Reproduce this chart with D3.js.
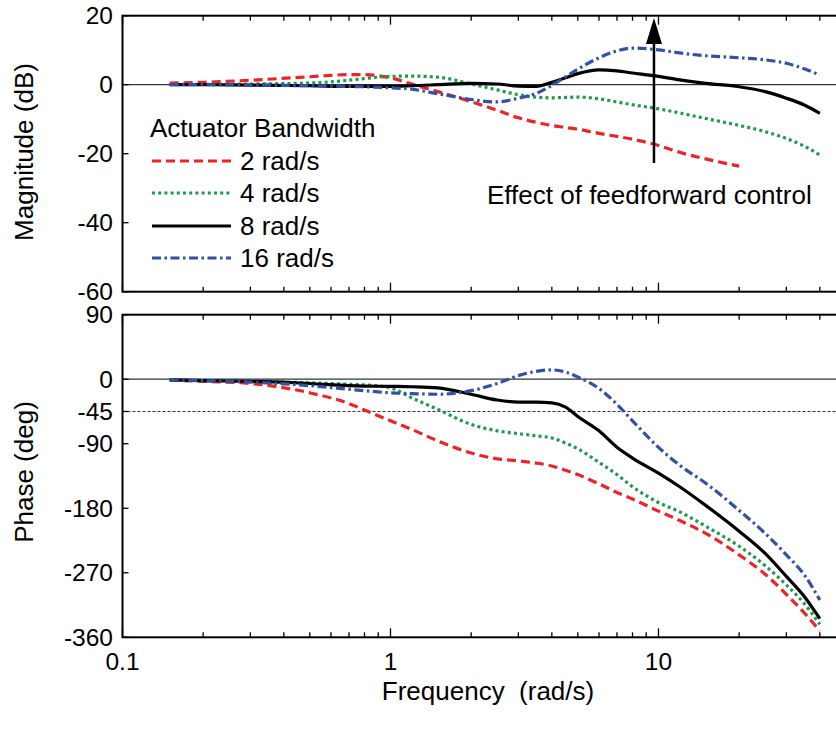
<!DOCTYPE html>
<meta charset="utf-8">
<style>
body { margin: 0; background: #fff; }
text { font-family: "Liberation Sans", Arial, sans-serif; fill: #000; }
.frame { fill: none; stroke: #000; stroke-width: 2; }
.tick { stroke: #000; stroke-width: 1.3; }
.series { fill: none; stroke-width: 3.2; stroke-linejoin: round; }
.ref { stroke: #333; stroke-width: 1.2; }
</style>
<svg width="836" height="736"></svg>
<script src="https://d3js.org/d3.v7.min.js"></script>
<script>

var freq = [0.15, 0.2, 0.3, 0.5, 0.7, 0.8, 1, 1.2, 1.5, 2, 2.5, 3, 3.5, 4, 4.5, 5, 6, 7, 8, 10, 12, 15, 20, 25, 30, 35, 40];

// magnitude (dB); the 2 rad/s curve stops at 20 rad/s
var mag2  = [0.5, 0.7, 1.3, 2.3, 2.9, 2.9, 2.0, 0.2, -2.0, -4.9, -7.4, -9.6, -10.9, -11.8, -12.4, -12.9, -14.1, -15.0, -15.8, -17.6, -19.6, -21.5, -23.6];
var mag4  = [0.1, 0.1, 0.2, 0.5, 1.3, 1.8, 2.4, 2.5, 2.2, 0.2, -1.5, -2.9, -3.6, -3.8, -3.7, -3.6, -4.1, -5.0, -5.8, -7.0, -8.2, -9.8, -11.8, -13.6, -15.6, -17.8, -20.4];
var mag8  = [0, 0, -0.1, -0.3, -0.5, -0.5, -0.5, -0.3, 0, 0.4, 0.2, -0.4, -0.5, 0.7, 2.0, 3.2, 4.3, 4.0, 3.4, 2.4, 1.4, 0.4, -0.6, -2.0, -3.9, -5.9, -8.3];
var mag16 = [0, 0, -0.1, -0.3, -0.5, -0.6, -0.9, -1.3, -2.6, -4.3, -5.0, -3.9, -2.5, -0.2, 2.3, 4.5, 7.8, 9.8, 10.6, 10.1, 9.2, 8.4, 7.8, 7.2, 6.2, 4.6, 2.8];

// phase (deg)
var ph2  = [-1, -3, -6, -19, -34, -43, -58, -70, -86, -103, -111, -114, -117, -121, -127, -133, -146, -158, -167, -184, -197, -215, -245, -272, -300, -326, -351];
var ph4  = [-1, -2, -3, -5, -7, -8, -12, -26, -42, -63, -72, -76, -79, -82, -89, -97, -116, -133, -150, -172, -185, -205, -233, -260, -287, -313, -342];
var ph8  = [-1, -2, -3, -6, -9, -9.5, -10, -10.5, -12, -21, -29, -32, -32, -33, -39, -52, -72, -95, -110, -131, -150, -176, -212, -243, -275, -303, -334];
var ph16 = [-1, -2, -4, -9, -14, -16, -19, -20, -21, -16, -6, 5, 11, 13, 10, 3, -13, -35, -58, -95, -120, -145, -183, -215, -245, -273, -308];

var names  = ["2 rad/s", "4 rad/s", "8 rad/s", "16 rad/s"];
var colors = ["#ec2327", "#1e9a4a", "#000000", "#3350a2"];
var dashes = ["9,5", "3,3.2", null, "9,3.5,2.5,3.5"];

var magTicks = [20, 0, -20, -40, -60];
var phaseTicks = [90, 0, -45, -90, -180, -270, -360];
var freqLabels = [0.1, 1, 10];

var series = names.map(function(n, i) {
  return {name: n, color: colors[i], dash: dashes[i],
          mag: [mag2, mag4, mag8, mag16][i], phase: [ph2, ph4, ph8, ph16][i]};
});

var svg = d3.select("svg");

var x = d3.scaleLog().domain([0.1, 50]).range([122.5, 845.8]);
var yMag = d3.scaleLinear().domain([-60, 20]).range([291.7, 15.7]);
var yPh = d3.scaleLinear().domain([-360, 90]).range([637.3, 314.7]);

var x0 = x.range()[0], x1 = x.range()[1];

function panel(y, ticks, refs) {
  var g = svg.append("g");
  var top = y.range()[1], bot = y.range()[0];

  refs.forEach(function(r) {
    g.append("line").attr("class", "ref")
      .attr("x1", x0).attr("x2", x1)
      .attr("y1", y(r.v)).attr("y2", y(r.v))
      .attr("stroke-dasharray", r.dash)
      .attr("stroke-width", r.dash ? 1 : 1.2);
  });

  // log ticks on the top and bottom edges
  x.ticks().forEach(function(t) {
    var major = Math.abs(Math.log10(t) - Math.round(Math.log10(t))) < 1e-9;
    var len = major ? 9 : 5;
    g.append("line").attr("class", "tick")
      .attr("x1", x(t)).attr("x2", x(t)).attr("y1", bot).attr("y2", bot - len);
    g.append("line").attr("class", "tick")
      .attr("x1", x(t)).attr("x2", x(t)).attr("y1", top).attr("y2", top + len);
  });

  g.selectAll(".ylab")
    .data(ticks)
    .enter().append("text")
      .attr("x", 113)
      .attr("y", function(d) { return y(d); })
      .attr("dy", "0.35em")
      .attr("text-anchor", "end")
      .attr("font-size", 24.5)
      .text(function(d) { return d; });

  g.selectAll(".ytick")
    .data(ticks)
    .enter().append("line").attr("class", "tick")
      .attr("x1", x0).attr("x2", x0 + 6)
      .attr("y1", function(d) { return y(d); })
      .attr("y2", function(d) { return y(d); });

  return g;
}

var gMag = panel(yMag, magTicks, [{v: 0}]);
var gPh = panel(yPh, phaseTicks, [{v: 0}, {v: -45, dash: "3,2"}]);

var lineMag = d3.line()
    .x(function(d) { return x(d[0]); })
    .y(function(d) { return yMag(d[1]); })
    .curve(d3.curveMonotoneX);

var linePh = d3.line()
    .x(function(d) { return x(d[0]); })
    .y(function(d) { return yPh(d[1]); })
    .curve(d3.curveMonotoneX);

series.forEach(function(s) {
  gMag.append("path")
      .attr("class", "series")
      .attr("stroke", s.color)
      .attr("stroke-dasharray", s.dash)
      .attr("d", lineMag(d3.zip(freq, s.mag)));
  gPh.append("path")
      .attr("class", "series")
      .attr("stroke", s.color)
      .attr("stroke-dasharray", s.dash)
      .attr("d", linePh(d3.zip(freq, s.phase)));
});

// frames
[yMag, yPh].forEach(function(y) {
  svg.append("rect").attr("class", "frame")
    .attr("x", x0).attr("y", y.range()[1])
    .attr("width", x1 - x0).attr("height", y.range()[0] - y.range()[1]);
});

svg.selectAll(".xlab")
  .data(freqLabels)
  .enter().append("text")
    .attr("x", function(d) { return x(d); })
    .attr("y", 670)
    .attr("text-anchor", "middle")
    .attr("font-size", 24.5)
    .text(function(d) { return d; });

svg.append("text")
    .attr("transform", "translate(33,152) rotate(-90)")
    .attr("text-anchor", "middle")
    .attr("font-size", 26)
    .text("Magnitude (dB)");

svg.append("text")
    .attr("transform", "translate(33,472) rotate(-90)")
    .attr("text-anchor", "middle")
    .attr("font-size", 26)
    .text("Phase (deg)");

svg.append("text")
    .attr("x", 488)
    .attr("y", 700)
    .attr("text-anchor", "middle")
    .attr("font-size", 26)
    .style("white-space", "pre")
    .text("Frequency  (rad/s)");

// legend
var legend = svg.append("g").attr("transform", "translate(150,0)");
legend.append("text")
    .attr("x", 0).attr("y", 137)
    .attr("font-size", 26)
    .text("Actuator Bandwidth");

var rowY = [161, 193, 226, 258];
series.forEach(function(s, i) {
  legend.append("line")
      .attr("class", "series")
      .attr("x1", 2).attr("x2", 81)
      .attr("y1", rowY[i]).attr("y2", rowY[i])
      .attr("stroke", s.color)
      .attr("stroke-dasharray", s.dash);
  legend.append("text")
      .attr("x", 90).attr("y", rowY[i] + 9)
      .attr("font-size", 26)
      .text(s.name);
});

// annotation arrow
var ax = x(9.62);
svg.append("line")
    .attr("x1", ax).attr("x2", ax)
    .attr("y1", yMag(-22.7)).attr("y2", yMag(13))
    .attr("stroke", "#000").attr("stroke-width", 2.5);
svg.append("path")
    .attr("d", "M" + ax + "," + yMag(19.3) + "L" + (ax - 8) + "," + yMag(11.8) + "L" + (ax + 8) + "," + yMag(11.8) + "Z")
    .attr("fill", "#000");

svg.append("text")
    .attr("x", 487).attr("y", 204)
    .attr("font-size", 26)
    .text("Effect of feedforward control");

</script>
